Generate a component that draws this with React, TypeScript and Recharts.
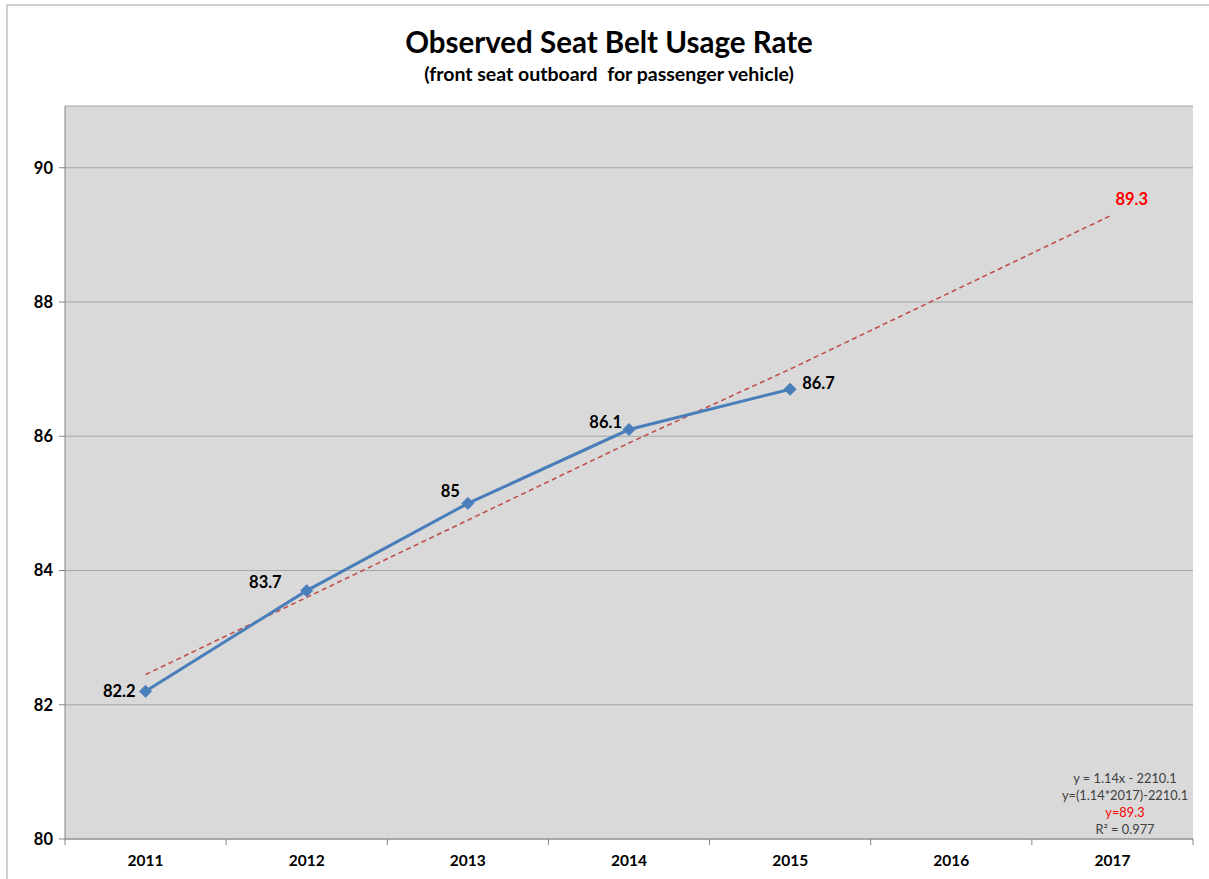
import React from "react";
import {
  ComposedChart,
  Line,
  XAxis,
  YAxis,
  CartesianGrid,
  LabelList,
  Customized,
} from "recharts";

const years = [2011, 2012, 2013, 2014, 2015, 2016, 2017];
const usageRate: (number | null)[] = [82.2, 83.7, 85, 86.1, 86.7, null, null];
const trendRate = [82.45, 83.6, 84.75, 85.9, 87.0, 88.15, 89.3];
const yTicks = [80, 82, 84, 86, 88, 90];
const equationLines = [
  "y = 1.14x - 2210.1",
  "y=(1.14*2017)-2210.1",
  "y=89.3",
  "R² = 0.977",
];

const W = 1209;
const H = 879;
const FONT = "Lato, 'Open Sans', sans-serif";
const BLUE = "#4a7ebb";
const TREND = "#c0504d";

const data = years.map((year, i) => ({
  year,
  rate: usageRate[i],
  trend: trendRate[i],
}));

// year centres carry labels, half-years carry the separator tick marks
const xTicks = years.flatMap((y, i) => (i === 0 ? [y - 0.5, y, y + 0.5] : [y, y + 0.5]));

// where each data label sits relative to its point
const labelPlacement = [
  { dx: -10, dy: 6, anchor: "end" },
  { dx: -25, dy: -3, anchor: "end" },
  { dx: -8, dy: -6, anchor: "end" },
  { dx: -7, dy: -2, anchor: "end" },
  { dx: 12, dy: 0, anchor: "start" },
];

function YearTick(props: any) {
  const { x, y, payload } = props;
  const v = payload.value as number;
  if (v % 1 !== 0) {
    return <line x1={x} x2={x} y1={y} y2={y + 6} stroke="#868686" strokeWidth={1} />;
  }
  return (
    <text
      x={x}
      y={y + 27}
      textAnchor="middle"
      fontFamily={FONT}
      fontSize={15.5}
      fontWeight={700}
      fill="#000"
    >
      {v}
    </text>
  );
}

function Diamond(props: any) {
  const { cx, cy, index } = props;
  if (cx == null || cy == null || props.value == null) return <g key={index} />;
  const r = 6;
  return (
    <path
      key={index}
      d={`M${cx},${cy - r}L${cx + r},${cy}L${cx},${cy + r}L${cx - r},${cy}Z`}
      fill={BLUE}
      stroke={BLUE}
    />
  );
}

function RateLabel(props: any) {
  const { x, y, value, index } = props;
  if (value == null) return null;
  const p = labelPlacement[index] || labelPlacement[0];
  return (
    <text
      x={x + p.dx}
      y={y + p.dy}
      textAnchor={p.anchor}
      fontFamily={FONT}
      fontSize={16.5}
      fontWeight={700}
      fill="#000"
    >
      {value}
    </text>
  );
}

function TrendLabel(props: any) {
  const { x, y, value, index } = props;
  if (index !== trendRate.length - 1) return null;
  return (
    <text
      x={x + 3}
      y={y - 10}
      fontFamily={FONT}
      fontSize={16.5}
      fontWeight={700}
      fill="#ff0000"
    >
      {value}
    </text>
  );
}

function Annotations() {
  return (
    <g>
      <path d={`M7,${H}V5H${W}`} fill="none" stroke="#a0a0a0" strokeWidth={1} />
      <text
        x={609}
        y={53}
        textAnchor="middle"
        fontFamily={FONT}
        fontSize={29.5}
        fontWeight={700}
        fill="#000"
      >
        Observed Seat Belt Usage Rate
      </text>
      <text
        x={609}
        y={81}
        textAnchor="middle"
        fontFamily={FONT}
        fontSize={19.5}
        fontWeight={700}
        fill="#000"
        xmlSpace="preserve"
      >
        {"(front seat outboard  for passenger vehicle)"}
      </text>
      {equationLines.map((line, i) => (
        <text
          key={i}
          x={1125}
          y={783 + i * 17}
          textAnchor="middle"
          fontFamily={FONT}
          fontSize={12.8}
          fill={i === 2 ? "#ff0000" : "#404040"}
        >
          {line}
        </text>
      ))}
    </g>
  );
}

export default function App() {
  return (
    <div style={{ width: W, height: H, background: "#fff" }}>
      <style>{"body{margin:0}"}</style>
      <ComposedChart
        width={W}
        height={H}
        data={data}
        margin={{ top: 106, right: 16, bottom: 0, left: 0 }}
      >
        <CartesianGrid vertical={false} fill="#d9d9d9" stroke="#a6a6a6" />
        <XAxis
          dataKey="year"
          type="number"
          domain={[2010.5, 2017.5]}
          ticks={xTicks}
          interval={0}
          tickLine={false}
          tickSize={0}
          tickMargin={0}
          axisLine={{ stroke: "#868686" }}
          tick={<YearTick />}
          height={40}
        />
        <YAxis
          domain={[80, 90.92]}
          ticks={yTicks}
          allowDataOverflow
          width={65}
          tickSize={6}
          tickMargin={6}
          tickLine={{ stroke: "#868686" }}
          axisLine={{ stroke: "#868686" }}
          tick={{ fill: "#000", fontSize: 16.5, fontWeight: 700, fontFamily: FONT }}
        />
        <Line
          dataKey="trend"
          type="linear"
          stroke={TREND}
          strokeWidth={1.6}
          strokeDasharray="5 3.5"
          dot={false}
          activeDot={false}
          isAnimationActive={false}
        >
          <LabelList dataKey="trend" content={<TrendLabel />} />
        </Line>
        <Line
          dataKey="rate"
          type="linear"
          stroke={BLUE}
          strokeWidth={3}
          dot={<Diamond />}
          activeDot={false}
          isAnimationActive={false}
        >
          <LabelList dataKey="rate" content={<RateLabel />} />
        </Line>
        <Customized component={Annotations} />
      </ComposedChart>
    </div>
  );
}
